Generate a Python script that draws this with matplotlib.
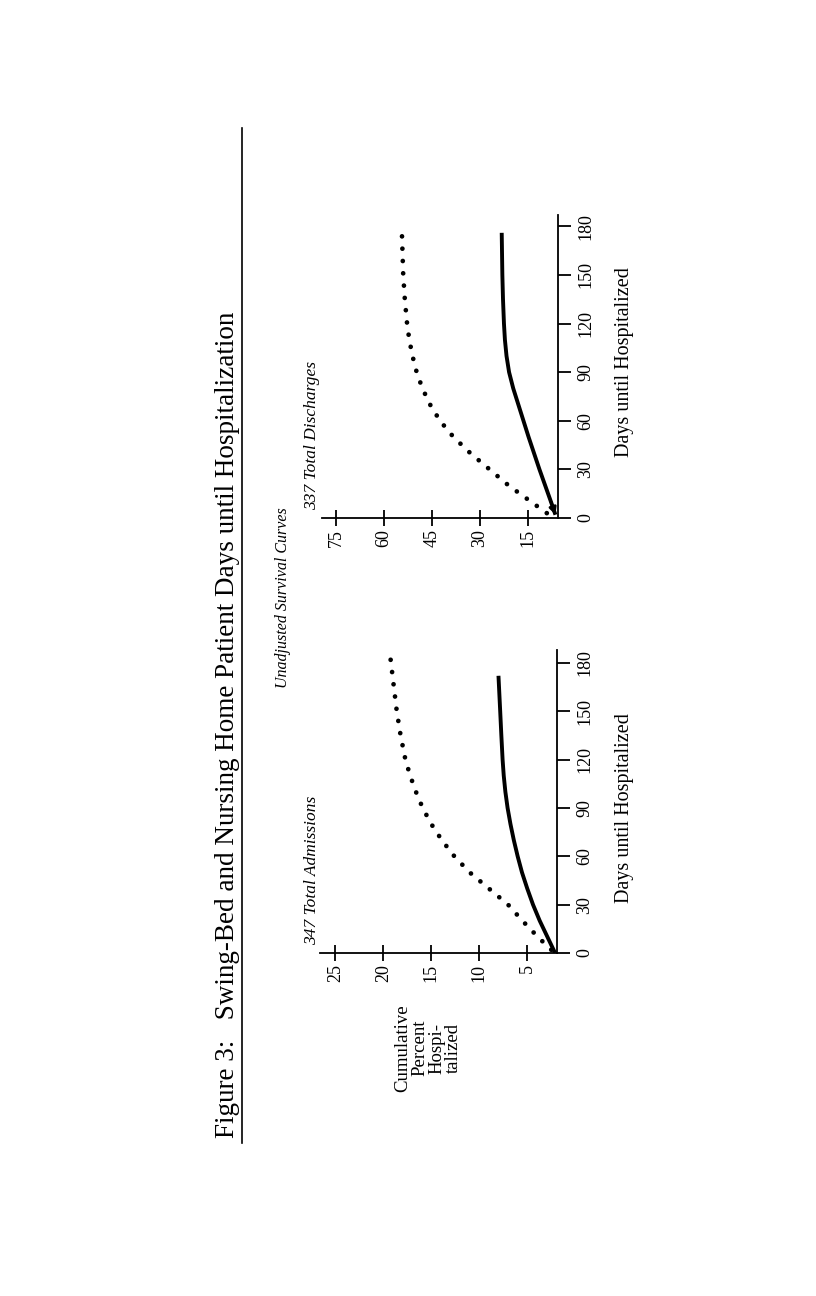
import matplotlib.pyplot as plt
from matplotlib.lines import Line2D

plt.rcParams['font.family'] = ['Liberation Serif', 'DejaVu Serif']

# the page is printed sideways: days run up the page, percent runs leftwards
day_ticks = [0, 30, 60, 90, 120, 150, 180]

# panel 1: 347 total admissions
adm_days_dot = [2, 10, 20, 30, 40, 50, 60, 70, 80, 90, 100, 110, 120, 135, 150, 165, 185]
adm_pct_dot = [2.5, 3.9, 5.5, 7.0, 9.0, 11.0, 12.6, 13.9, 15.0, 15.9, 16.6, 17.2, 17.7,
               18.2, 18.6, 18.9, 19.3]
adm_days_sol = [0, 10, 20, 30, 40, 50, 60, 70, 80, 90, 100, 110, 120, 135, 150, 172]
adm_pct_sol = [2.1, 2.9, 3.7, 4.4, 5.0, 5.55, 6.0, 6.4, 6.75, 7.05, 7.28, 7.45, 7.57,
               7.7, 7.82, 8.0]
adm_pct_ticks = [5, 10, 15, 20, 25]

# panel 2: 337 total discharges
dis_days_dot = [3, 10, 20, 30, 40, 50, 60, 70, 80, 90, 100, 110, 120, 135, 150, 175]
dis_pct_dot = [9.1, 14.0, 21.0, 27.0, 33.0, 38.3, 42.5, 45.6, 48.0, 49.8, 51.1, 52.1,
               52.8, 53.5, 54.0, 54.4]
dis_days_sol = [2, 10, 20, 30, 40, 50, 60, 70, 80, 90, 100, 110, 120, 135, 150, 176]
dis_pct_sol = [6.4, 7.8, 9.6, 11.4, 13.1, 14.8, 16.4, 18.0, 19.6, 20.9, 21.7, 22.2,
               22.5, 22.8, 23.0, 23.2]
dis_pct_ticks = [15, 30, 45, 60, 75]

W, H = 816, 1296
fig = plt.figure(figsize=(W / 100, H / 100), dpi=100)


def px(x, y):
    return x / W, 1 - y / H


def panel(box, xlim, ylim, pct_ticks, d_dot, p_dot, d_sol, p_sol, arrow=False):
    l, t, r, b = box
    ax = fig.add_axes([l / W, 1 - b / H, (r - l) / W, (b - t) / H])
    ax.plot(p_dot, d_dot, color='black', lw=3.4, linestyle=(0, (0.01, 2.6)),
            dash_capstyle='round')
    ax.plot(p_sol, d_sol, color='black', lw=2.8, solid_capstyle='butt',
            solid_joinstyle='round')
    if arrow:
        ax.annotate('', xy=(p_sol[0], d_sol[0]), xytext=(p_sol[1], d_sol[1]),
                    arrowprops=dict(arrowstyle='-|>', color='black', lw=2,
                                    mutation_scale=10, shrinkA=0, shrinkB=0))
    ax.set_xlim(*xlim)
    ax.set_ylim(*ylim)
    for s in ('top', 'left'):
        ax.spines[s].set_visible(False)
    for s in ('bottom', 'right'):
        ax.spines[s].set_linewidth(1.3)
    ax.yaxis.tick_right()
    ax.set_yticks(day_ticks)
    ax.set_xticks(pct_ticks)
    ax.tick_params(axis='y', direction='out', length=9, width=1.3, pad=5,
                   labelrotation=90, labelsize=13)
    ax.tick_params(axis='x', direction='inout', length=12, width=1.3, pad=2,
                   labelrotation=90, labelsize=13)
    for lab in ax.get_yticklabels():
        lab.set_va('center')
    ax.patch.set_alpha(0)
    return ax


panel((320, 650, 557, 953), (26.6, 1.9), (0, 188), adm_pct_ticks,
      adm_days_dot, adm_pct_dot, adm_days_sol, adm_pct_sol)
panel((322, 215, 558, 518), (79.4, 5.6), (0, 187), dis_pct_ticks,
      dis_days_dot, dis_pct_dot, dis_days_sol, dis_pct_sol, arrow=True)

# title and rule
fig.text(*px(228, 725), 'Figure 3:   Swing-Bed and Nursing Home Patient Days until Hospitalization',
         rotation=90, ha='center', va='center', fontsize=19.5)
fig.add_artist(Line2D([242 / W, 242 / W], [1 - 128 / H, 1 - 1143 / H],
                      color='black', lw=1.2))

fig.text(*px(283, 598), 'Unadjusted Survival Curves', rotation=90,
         ha='center', va='center', fontsize=11.5, style='italic')
fig.text(*px(312, 870), '347 Total Admissions', rotation=90,
         ha='center', va='center', fontsize=12.5, style='italic')
fig.text(*px(312, 435), '337 Total Discharges', rotation=90,
         ha='center', va='center', fontsize=12.5, style='italic')
fig.text(*px(625, 808), 'Days until Hospitalized', rotation=90,
         ha='center', va='center', fontsize=14.5)
fig.text(*px(625, 362), 'Days until Hospitalized', rotation=90,
         ha='center', va='center', fontsize=14.5)
fig.text(*px(428, 1048), 'Cumulative\nPercent\nHospi-\ntalized', rotation=90,
         ha='center', va='center', fontsize=13.5, multialignment='center',
         linespacing=1.0)

fig.savefig('out.png', dpi=100, facecolor='white')
